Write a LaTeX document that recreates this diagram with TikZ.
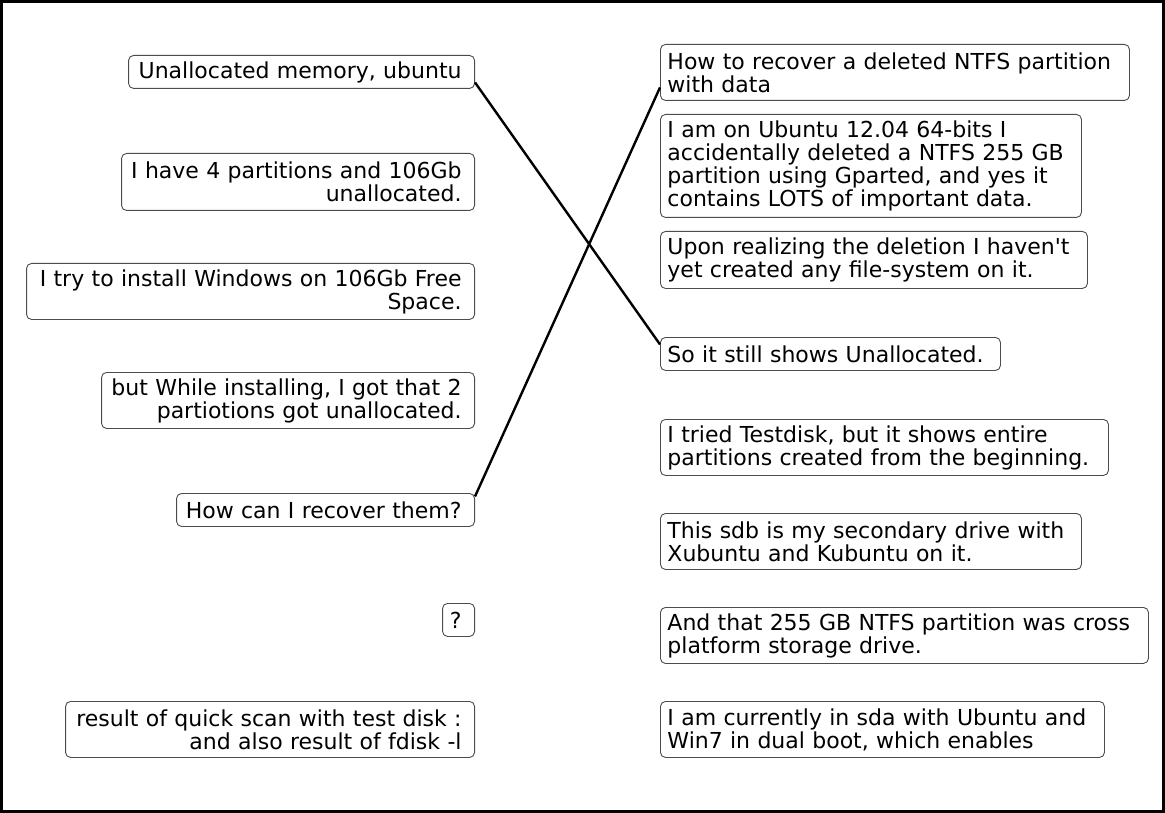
\documentclass[tikz,border=0pt]{standalone}
\usepackage{fontspec}
\setmainfont{DejaVu Sans}
\usepackage{tikz}

% right padding kept at the end of a right-aligned line
\newcommand{\tsp}{\kern13pt}

\begin{document}
\begin{tikzpicture}[x=1pt, y=-1pt,
  box/.style={draw=black!70, line width=0.9pt, rectangle, rounded corners=5pt,
    inner ysep=0pt, font=\fontsize{22}{23}\selectfont},
  lbox/.style={box, inner xsep=0pt, anchor=north east, align=right},
  rbox/.style={box, inner xsep=7pt, anchor=north west, align=left},
  link/.style={line width=2.4pt, black}
]
  % frame
  \draw[line width=3pt] (1.5,1.5) rectangle (1163.5,811.5);
  \useasboundingbox (0,0) rectangle (1165,813);

  % left column
  \node[lbox, text width=346pt, minimum height=33pt] (l1) at (475,55)
    {Unallocated memory, ubuntu\tsp};
  \node[lbox, text width=353pt, minimum height=57pt] (l2) at (475,153)
    {I have 4 partitions and 106Gb\tsp\\unallocated.\tsp};
  \node[lbox, text width=448pt, minimum height=56pt] (l3) at (475,263)
    {I try to install Windows on 106Gb Free\tsp\\Space.\tsp};
  \node[lbox, text width=373pt, minimum height=56pt] (l4) at (475,372)
    {but While installing, I got that 2\tsp\\partiotions got unallocated.\tsp};
  \node[lbox, text width=298pt, minimum height=33pt] (l5) at (475,493)
    {How can I recover them?\tsp};
  \node[lbox, text width=32pt, minimum height=33pt] (l6) at (475,603)
    {?\tsp};
  \node[lbox, text width=409pt, minimum height=56pt] (l7) at (475,701)
    {result of quick scan with test disk :\tsp\\and also result of fdisk -l\tsp};

  % right column
  \node[rbox, text width=455pt, minimum height=56pt] (r1) at (660,44)
    {How to recover a deleted NTFS partition\\with data};
  \node[rbox, text width=407pt, minimum height=103pt] (r2) at (660,114)
    {I am on Ubuntu 12.04 64-bits I\\accidentally deleted a NTFS 255 GB\\partition using Gparted, and yes it\\contains LOTS of important data.};
  \node[rbox, text width=413pt, minimum height=57pt] (r3) at (660,231)
    {Upon realizing the deletion I haven\textquotesingle t\\yet created any file-system on it.};
  \node[rbox, text width=326pt, minimum height=33pt] (r4) at (660,337)
    {So it still shows Unallocated.};
  \node[rbox, text width=434pt, minimum height=56pt] (r5) at (660,419)
    {I tried Testdisk, but it shows entire\\partitions created from the beginning.};
  \node[rbox, text width=407pt, minimum height=56pt] (r6) at (660,513)
    {This sdb is my secondary drive with\\Xubuntu and Kubuntu on it.};
  \node[rbox, text width=474pt, minimum height=56pt] (r7) at (660,607)
    {And that 255 GB NTFS partition was cross\\platform storage drive.};
  \node[rbox, text width=430pt, minimum height=56pt] (r8) at (660,701)
    {I am currently in sda with Ubuntu and\\Win7 in dual boot, which enables};

  % links
  \draw[link] ([yshift=-10.5pt]l1.east) -- ([yshift=9.5pt]r4.west);
  \draw[link] ([yshift=13.5pt]l5.east) -- ([yshift=-15pt]r1.west);
\end{tikzpicture}
\end{document}
